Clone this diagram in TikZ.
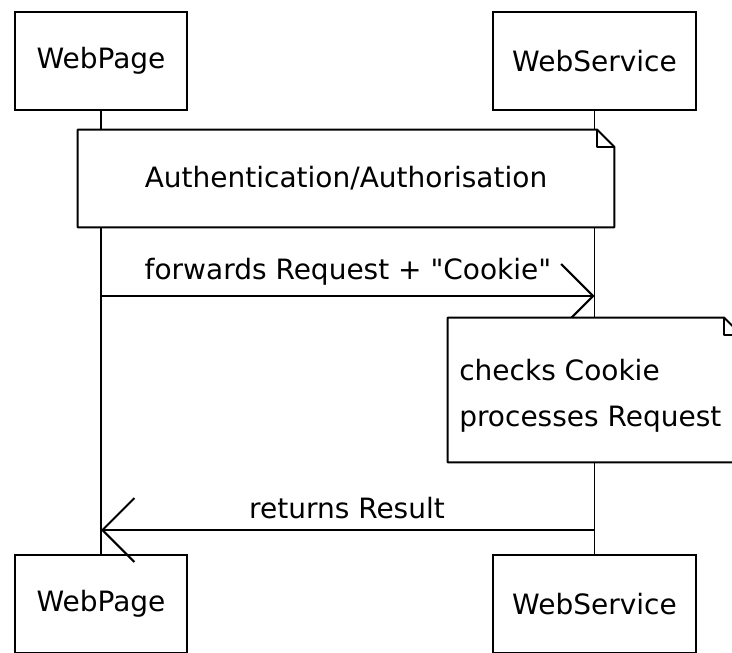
\documentclass[tikz,border=0pt]{standalone}
\usepackage{fontspec}
\setmainfont{DejaVu Sans}[Ligatures=TeXOff]
\usetikzlibrary{arrows.meta,calc}
\begin{document}
\begin{tikzpicture}[x=0.75pt,y=-0.75pt,
  txt/.style={font=\fontsize{21}{25}\selectfont},
  actor/.style={txt, draw, line width=1.5pt, fill=white, minimum height=73.5pt, inner sep=0pt},
  notebg/.style={txt, fill=white, inner sep=0pt},
  noteline/.style={line width=1.5pt, line join=round},
  lifeline/.style={line width=1.1pt},
  msg/.style={line width=1.5pt, -{Straight Barb[length=24pt, width=48pt, line width=1.5pt]}},
  lbl/.style={txt, inner sep=0pt}]
\clip (0,0) rectangle (732,653);
% actors
\node[actor, minimum width=129pt] (wp1) at (101,61) {WebPage};
\node[actor, minimum width=152.25pt] (ws1) at (594.5,61) {WebService};
\node[actor, minimum width=129pt] (wp2) at (101,604) {WebPage};
\node[actor, minimum width=152.25pt] (ws2) at (594.5,604) {WebService};
% lifelines
\draw[lifeline] (wp1) -- (wp2);
\draw[lifeline] (ws1) -- (ws2);
% note 1
\node[notebg, minimum width=402pt, minimum height=72.75pt] (auth) at (346,178.5) {Authentication/Authorisation};
\draw[noteline] (auth.south west) -- (auth.north west) -- ($(auth.north east)+(-17,0)$) -- ($(auth.north east)+(0,17)$) -- (auth.south east) -- cycle;
\draw[noteline] ($(auth.north east)+(-17,0)$) -- ($(auth.north east)+(-17,17)$) -- ($(auth.north east)+(0,17)$);
% forward message
\coordinate (y1) at (0,296);
\coordinate (y2) at (0,530);
\draw[msg] (wp1 |- y1) -- (ws1 |- y1);
\node[lbl] (flbl) at (348,272) {forwards Request + "Cookie"};
% note 2
\node[notebg, minimum width=219.75pt, minimum height=108pt] (proc) at (594.5,390) {};
\draw[noteline] (proc.south west) -- (proc.north west) -- ($(proc.north east)+(-17,0)$) -- ($(proc.north east)+(0,17)$) -- (proc.south east) -- cycle;
\draw[noteline] ($(proc.north east)+(-17,0)$) -- ($(proc.north east)+(-17,17)$) -- ($(proc.north east)+(0,17)$);
\node[lbl, anchor=west] (t1) at (459,370) {checks Cookie};
\node[lbl, anchor=west] (t2) at (459,419) {processes Request};
% return message
\draw[msg] (ws1 |- y2) -- (wp1 |- y2);
\node[lbl] (rlbl) at (347,508) {returns Result};
\end{tikzpicture}
\end{document}
